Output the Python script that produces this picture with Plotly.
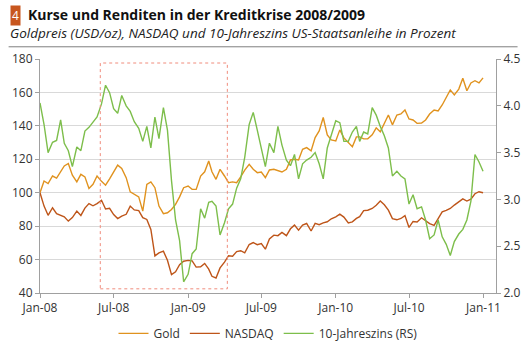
import plotly.graph_objects as go

# ---------------- data (sampled on the 1st/11th/21st of each month) ----------------
dates = [f"{y}-{m:02d}-{d:02d}" for y in (2008, 2009, 2010) for m in range(1, 13) for d in (1, 11, 21)] + ["2010-12-31"]

gold_2008 = [100, 107, 105.5, 110, 108.8, 112.5, 116, 117.5, 110.5, 106.5, 111, 109.5,
             102.5, 105, 110, 106.8, 104.5, 108.3, 112, 116.5, 114.5, 109, 100.5, 99,
             97.5, 89, 105, 106.5, 103, 92, 87.5, 88, 90, 93, 97.5, 103]
gold_2009 = [104, 102, 102, 110, 112.5, 119, 112.5, 108, 114, 110, 106, 106.5,
             106, 109.5, 113.5, 117, 114, 112, 112.4, 109, 113.6, 114, 113, 112.4,
             114, 119.6, 120, 119.6, 126, 127, 125, 133, 137, 145, 134.6, 131.6]
gold_2010 = [131, 137.6, 132.8, 129.8, 127.5, 133.4, 133.4, 132.2, 132.2, 134.6, 138.8, 136.4,
             141.1, 146.5, 140.6, 146.5, 147.1, 149.5, 144.1, 143.5, 141.5, 141.7, 143.5, 147.1,
             149.5, 148.9, 152.5, 157.3, 161.5, 158.5, 162, 168.5, 161, 165.7, 167, 165.7, 168.7]

nasdaq_2008 = [100, 92, 86.5, 91, 87.5, 86.7, 85.6, 83, 85.1, 89, 86.4, 90.8,
               93.5, 92.2, 93.5, 95.5, 90.3, 90.7, 86.9, 84.5, 86, 87.1, 92, 89.7,
               89.3, 85.1, 84, 78, 62.2, 64, 65, 59.6, 51, 52.7, 57, 59]
nasdaq_2009 = [59.5, 59.2, 55.5, 55.7, 57.7, 54.3, 50, 49, 55, 58.5, 62.3, 62,
               64.8, 65.3, 64, 69, 70.2, 68.9, 69.6, 66.2, 72.3, 74.6, 74.3, 76.2,
               74.3, 78.4, 80.6, 77.6, 80.7, 81.6, 77.1, 81.7, 80.9, 82, 82.6, 84.4]
nasdaq_2010 = [85.6, 87.2, 85.4, 81.9, 82.6, 84.6, 85.7, 89.3, 89.5, 90.6, 92.5, 95,
               92.8, 89.6, 84.5, 83.8, 84.6, 86.3, 79.2, 82.8, 82.5, 85, 83.3, 81.5,
               80.5, 84.5, 88.6, 89.4, 90.6, 92.6, 94.5, 96.3, 95, 96.1, 99.4, 100.6, 100]

yield_2008 = [4.03, 3.80, 3.50, 3.61, 3.63, 3.85, 3.60, 3.52, 3.35, 3.56, 3.52, 3.73,
              3.77, 3.83, 3.88, 4.02, 4.22, 4.14, 3.97, 3.92, 4.11, 4.00, 3.94, 3.83,
              3.76, 3.62, 3.78, 3.55, 3.88, 3.65, 3.98, 3.74, 3.20, 2.78, 2.56, 2.12]
yield_2009 = [2.20, 2.42, 2.47, 2.90, 2.80, 2.97, 2.98, 2.93, 2.62, 2.75, 2.90, 2.95,
              3.12, 3.22, 3.45, 3.80, 3.93, 3.74, 3.56, 3.35, 3.60, 3.50, 3.78, 3.58,
              3.42, 3.36, 3.48, 3.22, 3.38, 3.42, 3.45, 3.50, 3.38, 3.22, 3.55, 3.70]
yield_2010 = [3.84, 3.82, 3.62, 3.62, 3.72, 3.78, 3.62, 3.72, 3.70, 3.98, 3.90, 3.78,
              3.68, 3.55, 3.25, 3.30, 3.25, 3.22, 2.95, 3.05, 2.90, 2.92, 2.78, 2.58,
              2.62, 2.78, 2.60, 2.52, 2.40, 2.55, 2.63, 2.68, 2.78, 2.98, 3.48, 3.40, 3.30]

gold = gold_2008 + gold_2009 + gold_2010
nasdaq = nasdaq_2008 + nasdaq_2009 + nasdaq_2010
yield10 = yield_2008 + yield_2009 + yield_2010

series_names = ["Gold", "NASDAQ", "10-Jahreszins (RS)"]
x_tickvals = ["2008-01-01", "2008-07-01", "2009-01-01", "2009-07-01",
              "2010-01-01", "2010-07-01", "2011-01-01"]
highlight = dict(start="2008-05-29", end="2009-04-08", low=42.5, high=177.6)

title = "Kurse und Renditen in der Kreditkrise 2008/2009"
subtitle = "Goldpreis (USD/oz), NASDAQ und 10-Jahreszins US-Staatsanleihe in Prozent"

# ---------------- styling ----------------
C_GOLD, C_NASDAQ, C_YIELD = "#E0921E", "#BE5519", "#7DBE4B"
W, H = 532, 360
ML, MR, MT, MB = 35, 32, 59, 52
PW, PH = W - ML - MR, H - MT - MB
FONT = "Open Sans"
AX = "#a0a0a0"
TXT = "#333333"


def px_x(px):
    return (px - ML) / PW


def px_y(py):
    return (H - MB - py) / PH


fig = go.Figure()
fig.add_trace(go.Scatter(x=dates, y=gold, name=series_names[0], mode="lines",
                         line=dict(color=C_GOLD, width=1.4)))
fig.add_trace(go.Scatter(x=dates, y=nasdaq, name=series_names[1], mode="lines",
                         line=dict(color=C_NASDAQ, width=1.4)))
fig.add_trace(go.Scatter(x=dates, y=yield10, name=series_names[2], mode="lines",
                         yaxis="y2", line=dict(color=C_YIELD, width=1.4)))

fig.add_shape(type="rect", xref="x", yref="y",
              x0=highlight["start"], x1=highlight["end"],
              y0=highlight["low"], y1=highlight["high"],
              line=dict(color="#F08C7C", width=1, dash="dot"), layer="above")

fig.add_shape(type="line", xref="paper", yref="paper",
              x0=px_x(3), x1=px_x(522), y0=px_y(46), y1=px_y(46),
              line=dict(color="#7f7f7f", width=1))

fig.add_annotation(xref="paper", yref="paper", x=px_x(4), y=px_y(2),
                   xanchor="left", yanchor="top", text="4", showarrow=False,
                   bgcolor="#C8561E", borderpad=1,
                   font=dict(family=FONT, size=12, color="white"))
fig.add_annotation(xref="paper", yref="paper", x=px_x(21), y=px_y(11.5),
                   xanchor="left", yanchor="middle", text=f"<b>{title}</b>",
                   showarrow=False, font=dict(family=FONT, size=14, color="#111111"))
fig.add_annotation(xref="paper", yref="paper", x=px_x(2), y=px_y(31.5),
                   xanchor="left", yanchor="middle", text=f"<i>{subtitle}</i>",
                   showarrow=False, font=dict(family=FONT, size=13.5, color="#222222"))

fig.update_layout(
    width=W, height=H,
    margin=dict(l=ML, r=MR, t=MT, b=MB, pad=0),
    paper_bgcolor="white", plot_bgcolor="white",
    font=dict(family=FONT, size=12, color=TXT),
    showlegend=True,
    legend=dict(orientation="h", x=0.5, xanchor="center", y=px_y(351), yanchor="middle",
                font=dict(family=FONT, size=12, color=TXT), bgcolor="rgba(0,0,0,0)"),
    xaxis=dict(type="date", range=["2008-01-01", "2011-02-01"],
               tickvals=x_tickvals, tickformat="%b-%y",
               ticks="outside", ticklen=4, tickcolor=AX,
               showline=True, linecolor=AX, linewidth=1,
               showgrid=False, zeroline=False,
               tickfont=dict(family=FONT, size=12, color=TXT)),
    yaxis=dict(range=[40, 180], tick0=40, dtick=20,
               ticks="outside", ticklen=4, tickcolor=AX,
               showline=True, linecolor=AX, linewidth=1,
               showgrid=True, gridcolor="#d9d9d9", gridwidth=1, zeroline=False,
               tickfont=dict(family=FONT, size=12, color=TXT)),
    yaxis2=dict(overlaying="y", side="right", range=[2.0, 4.5], tick0=2.0, dtick=0.5,
                tickformat=".1f", ticks="outside", ticklen=4, tickcolor=AX,
                showline=True, linecolor=AX, linewidth=1,
                showgrid=False, zeroline=False,
                tickfont=dict(family=FONT, size=12, color=TXT)),
)

fig.write_html("out.html", config={"displayModeBar": False},
               post_script="document.body.style.margin='0px';")
